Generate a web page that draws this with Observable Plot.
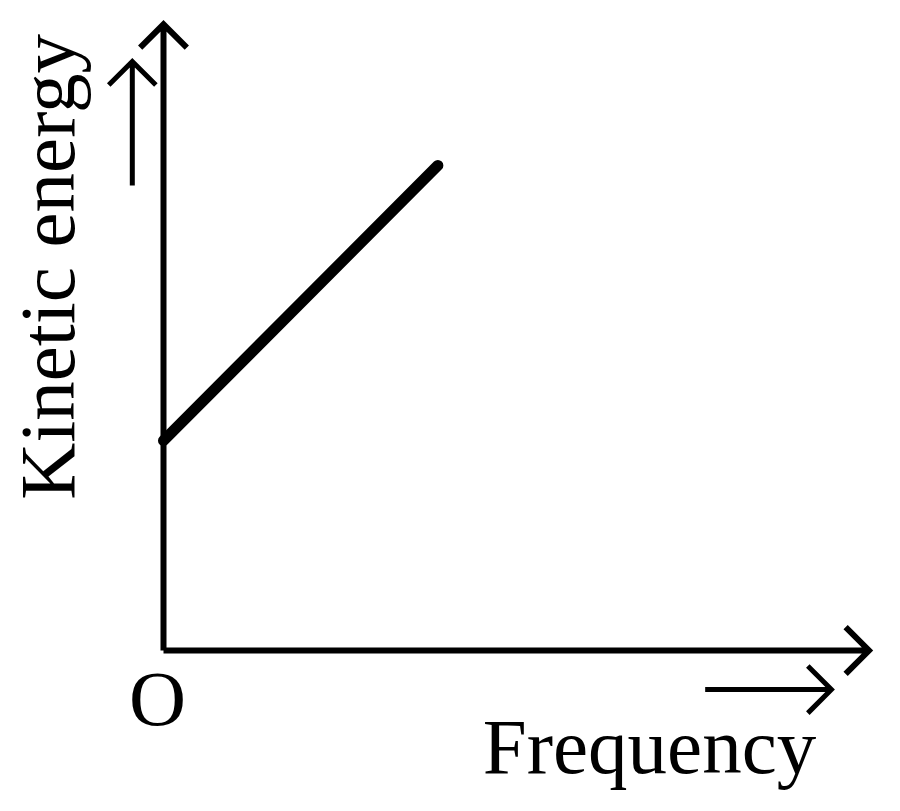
<!DOCTYPE html>
<html>
<head>
<meta charset="utf-8">
<script src="https://cdn.jsdelivr.net/npm/d3@7"></script>
<script src="https://cdn.jsdelivr.net/npm/@observablehq/plot@0.6"></script>
<style>
  html, body { margin: 0; padding: 0; background: #fff; }
  #chart svg { display: block; }
</style>
</head>
<body>
<div id="chart"></div>
<script>
// Data (arbitrary units: frequency 0..10, kinetic energy 0..10)
const frequency = [0, 3.87];
const kineticEnergy = [3.33, 7.70];

// Axis arrows (start/end in data units)
const axisX1 = [0, 0];
const axisY1 = [0, 0];
const axisX2 = [9.95, 0];
const axisY2 = [0, 9.94];

// Small direction arrows beside the labels
const hintX1 = [7.64, -0.44];
const hintY1 = [-0.62, 7.38];
const hintX2 = [9.42, -0.44];
const hintY2 = [-0.62, 9.35];

// Labels
const labelText = ["O", "Frequency", "Kinetic energy"];
const labelX = [-0.085, 6.855, -1.26];
const labelY = [-1.19, -1.94, 6.09];
const labelRotate = [0, 0, -90];

const line = frequency.map((f, i) => ({f, ke: kineticEnergy[i]}));
const axes = axisX1.map((_, i) => ({x1: axisX1[i], y1: axisY1[i], x2: axisX2[i], y2: axisY2[i]}));
const hints = hintX1.map((_, i) => ({x1: hintX1[i], y1: hintY1[i], x2: hintX2[i], y2: hintY2[i]}));
const labels = labelText.map((t, i) => ({t, x: labelX[i], y: labelY[i], r: labelRotate[i]}));

const arrowStyle = {
  stroke: "#000",
  strokeWidth: 6,
  headAngle: 90,
  headLength: 8.25,
  strokeLinecap: "butt",
  strokeLinejoin: "miter",
  strokeMiterlimit: 10
};

const chart = Plot.plot({
  width: 900,
  height: 811,
  marginLeft: 163,
  marginRight: 28,
  marginTop: 20,
  marginBottom: 161,
  style: {background: "#fff", overflow: "visible"},
  x: {domain: [0, 10], axis: null},
  y: {domain: [0, 10], axis: null},
  marks: [
    Plot.arrow(axes, {x1: "x1", y1: "y1", x2: "x2", y2: "y2", ...arrowStyle}),
    Plot.arrow(hints, {x1: "x1", y1: "y1", x2: "x2", y2: "y2", ...arrowStyle, strokeWidth: 5, headLength: 10, clip: false}),
    Plot.line(line, {x: "f", y: "ke", stroke: "#000", strokeWidth: 11, strokeLinecap: "round"}),
    Plot.text(labels, {
      x: "x", y: "y", text: "t", rotate: "r",
      fontSize: 79, fontFamily: "Liberation Serif, Times New Roman, serif",
      fill: "#000", lineAnchor: "bottom", textAnchor: "middle", clip: false
    })
  ]
});
document.getElementById("chart").appendChild(chart);
</script>
</body>
</html>
